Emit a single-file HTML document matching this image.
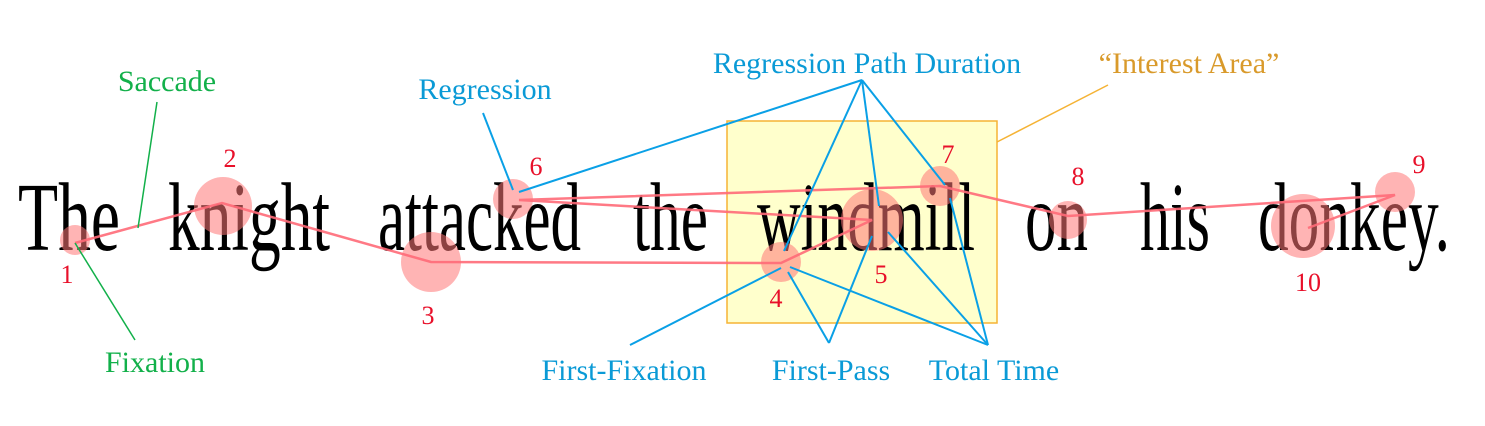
<!DOCTYPE html>
<html><head><meta charset="utf-8"><style>body{margin:0;background:#fff}svg{display:block}</style></head><body>
<svg width="1485" height="426" xmlns="http://www.w3.org/2000/svg" font-family="Liberation Serif, serif">
<rect width="1485" height="426" fill="#fff"/>
<rect x="727" y="121" width="270" height="202" fill="#ffffcc" stroke="#f5b335" stroke-width="1.5"/>
<line x1="997" y1="142" x2="1108" y2="85" stroke="#f5b335" stroke-width="1.5"/>
<g font-size="98" fill="#000">
<text x="18" y="250" textLength="102" lengthAdjust="spacingAndGlyphs">The</text>
<text x="168" y="250" textLength="162" lengthAdjust="spacingAndGlyphs">knight</text>
<text x="378" y="250" textLength="203" lengthAdjust="spacingAndGlyphs">attacked</text>
<text x="633" y="250" textLength="75" lengthAdjust="spacingAndGlyphs">the</text>
<text x="757" y="250" textLength="218" lengthAdjust="spacingAndGlyphs">windmill</text>
<text x="1025" y="250" textLength="63" lengthAdjust="spacingAndGlyphs">on</text>
<text x="1140" y="250" textLength="70" lengthAdjust="spacingAndGlyphs">his</text>
<text x="1258" y="250" textLength="192" lengthAdjust="spacingAndGlyphs">donkey.</text>
</g>
<g fill="#f77" fill-opacity="0.55">
<circle cx="75" cy="240" r="15"/>
<circle cx="223" cy="206" r="29"/>
<circle cx="431" cy="262" r="30"/>
<circle cx="513" cy="199" r="20"/>
<circle cx="781" cy="262" r="20"/>
<circle cx="872" cy="220" r="31"/>
<circle cx="940" cy="186" r="20"/>
<circle cx="1068" cy="220" r="19"/>
<circle cx="1395" cy="192" r="20"/>
<circle cx="1303" cy="226" r="32"/>
</g>
<polyline points="75,243 222,203 431,262 781,263 872,220 519,200 940,186 1068,216 1395,195 1308,228" fill="none" stroke="#ff6a78" stroke-width="2.5" stroke-opacity="0.9"/>
<g stroke="#0aa0e6" stroke-width="2" fill="none">
<line x1="483" y1="113" x2="513" y2="190"/>
<line x1="862" y1="80" x2="519" y2="192"/>
<line x1="862" y1="80" x2="784" y2="251"/>
<line x1="862" y1="80" x2="879" y2="206"/>
<line x1="862" y1="80" x2="945" y2="185"/>
<line x1="630" y1="345" x2="781" y2="268"/>
<line x1="829" y1="343" x2="788" y2="272"/>
<line x1="829" y1="343" x2="872" y2="236"/>
<line x1="988" y1="345" x2="790" y2="267"/>
<line x1="988" y1="345" x2="888" y2="232"/>
<line x1="988" y1="345" x2="950" y2="198"/>
</g>
<g stroke="#12b04a" stroke-width="1.5">
<line x1="157" y1="102" x2="138" y2="228"/>
<line x1="135" y1="340" x2="75" y2="243"/>
</g>
<g font-size="30" fill="#0a9ad6">
<text x="485" y="99" text-anchor="middle">Regression</text>
<text x="867" y="73" text-anchor="middle">Regression Path Duration</text>
<text x="624" y="380" text-anchor="middle">First-Fixation</text>
<text x="831" y="380" text-anchor="middle">First-Pass</text>
<text x="994" y="380" text-anchor="middle">Total Time</text>
</g>
<text x="1189" y="73" font-size="30" fill="#d99a2b" text-anchor="middle">“Interest Area”</text>
<g font-size="30" fill="#12b04a" text-anchor="middle">
<text x="167" y="91">Saccade</text>
<text x="155" y="372">Fixation</text>
</g>
<g font-size="26" fill="#e8102a" text-anchor="middle">
<text x="67" y="283">1</text>
<text x="230" y="167">2</text>
<text x="428" y="324">3</text>
<text x="776" y="307">4</text>
<text x="881" y="283">5</text>
<text x="536" y="175">6</text>
<text x="948" y="163">7</text>
<text x="1078" y="185">8</text>
<text x="1419" y="173">9</text>
<text x="1308" y="291">10</text>
</g>
</svg>
</body></html>
